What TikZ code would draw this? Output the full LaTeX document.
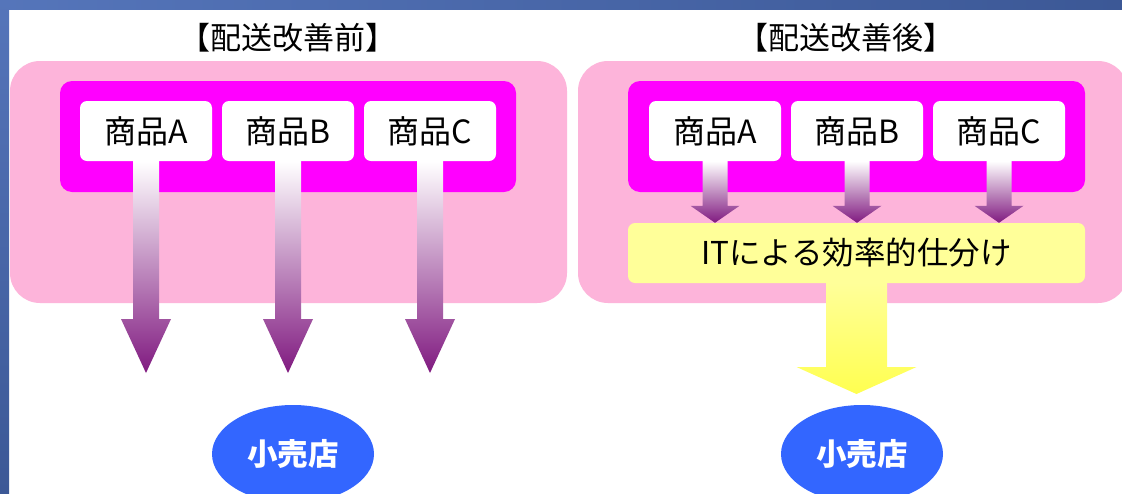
\documentclass[tikz,border=0pt]{standalone}
\usepackage{fontspec}
\setmainfont{Noto Sans CJK JP}
\usetikzlibrary{shapes.geometric,calc}
\definecolor{pinkbg}{HTML}{FDB4DA}
\definecolor{magbox}{HTML}{FF00FF}
\definecolor{itbox}{HTML}{FFFF99}
\definecolor{itarrow}{HTML}{FFFF50}
\definecolor{shopblue}{HTML}{3366FF}
\definecolor{arrowpurple}{HTML}{801A80}
\definecolor{arrowmid}{HTML}{D8CCDC}
\definecolor{frameA}{HTML}{5575BA}
\definecolor{frameB}{HTML}{3C5896}
\tikzset{
  outerbox/.style={fill=pinkbg, rounded corners=30pt, inner sep=0pt},
  innerbox/.style={fill=magbox, rounded corners=12pt, inner sep=0pt},
  goods/.style={fill=white, rounded corners=7pt, minimum width=132pt, minimum height=60pt, inner sep=0pt, font=\fontsize{32}{32}\selectfont},
  itstyle/.style={fill=itbox, rounded corners=7pt, minimum width=457pt, minimum height=60pt, inner sep=0pt, font=\fontsize{31.5}{31.5}\selectfont},
  shop/.style={ellipse, fill=shopblue, text=white, minimum width=162pt, minimum height=98pt, inner sep=0pt, font=\fontsize{30.5}{30.5}\selectfont\bfseries},
  titlestyle/.style={font=\fontsize{31}{31}\selectfont, inner sep=0pt},
  purplearrow/.style={top color=white, middle color=arrowmid, bottom color=arrowpurple, draw=none},
  yellowarrow/.style={top color=itbox, bottom color=itarrow, draw=none}
}
% #1 start, #2 tip, #3 shaft half width, #4 head half width, #5 head length, #6 style
\newcommand\blockarrow[6]{%
  \path[#6] let \p1=(#1), \p2=(#2) in
    (\x1-#3pt,\y1) -- (\x1-#3pt,\y2+#5pt) -- (\x1-#4pt,\y2+#5pt) -- (\x2,\y2)
    -- (\x1+#4pt,\y2+#5pt) -- (\x1+#3pt,\y2+#5pt) -- (\x1+#3pt,\y1) -- cycle;}
\begin{document}
\begin{tikzpicture}[x=1pt,y=-1pt]
\useasboundingbox (0,0) rectangle (1122,493);
\clip (0,0) rectangle (1122,493);
\fill[white] (0,0) rectangle (1122,493);
\shade[left color=frameA, right color=frameB] (0,0) rectangle (1122,9);
\shade[top color=frameA, bottom color=frameB] (0,0) rectangle (9,493);

% titles
\node[titlestyle] (t1) at (288,38) {【配送改善前】};
\node[titlestyle] (t2) at (846,38) {【配送改善後】};

% before
\node[outerbox, minimum width=557pt, minimum height=242pt] (pb) at (288.5,182) {};
\node[innerbox, minimum width=456pt, minimum height=111pt] (mb) at (288,136.5) {};
\node[goods] (la) at (146,131) {商品A};
\node[goods] (lb) at (288,131) {商品B};
\node[goods] (lc) at (430,131) {商品C};
\coordinate (lat) at (146,373);
\coordinate (lbt) at (288,373);
\coordinate (lct) at (430,373);
\blockarrow{la.south}{lat}{13}{25}{54}{purplearrow}
\blockarrow{lb.south}{lbt}{13}{25}{54}{purplearrow}
\blockarrow{lc.south}{lct}{13}{25}{54}{purplearrow}
\node[shop] (s1) at (293,454) {小売店};

% after
\node[outerbox, minimum width=550pt, minimum height=242pt] (pa) at (853,182) {};
\node[innerbox, minimum width=457pt, minimum height=111pt] (ma) at (856.5,136.5) {};
\node[goods] (ra) at (715,131) {商品A};
\node[goods] (rb) at (857,131) {商品B};
\node[goods] (rc) at (999,131) {商品C};
\node[itstyle] (it) at (856.5,253) {ITによる効率的仕分け};
\blockarrow{ra.south}{ra.south |- it.north}{12.5}{24.5}{17}{purplearrow}
\blockarrow{rb.south}{rb.south |- it.north}{12.5}{24.5}{17}{purplearrow}
\blockarrow{rc.south}{rc.south |- it.north}{12.5}{24.5}{17}{purplearrow}
\coordinate (itt) at (856.5,394);
\blockarrow{it.south}{itt}{30.5}{60}{27}{yellowarrow}
\node[shop] (s2) at (862,454) {小売店};
\end{tikzpicture}
\end{document}
